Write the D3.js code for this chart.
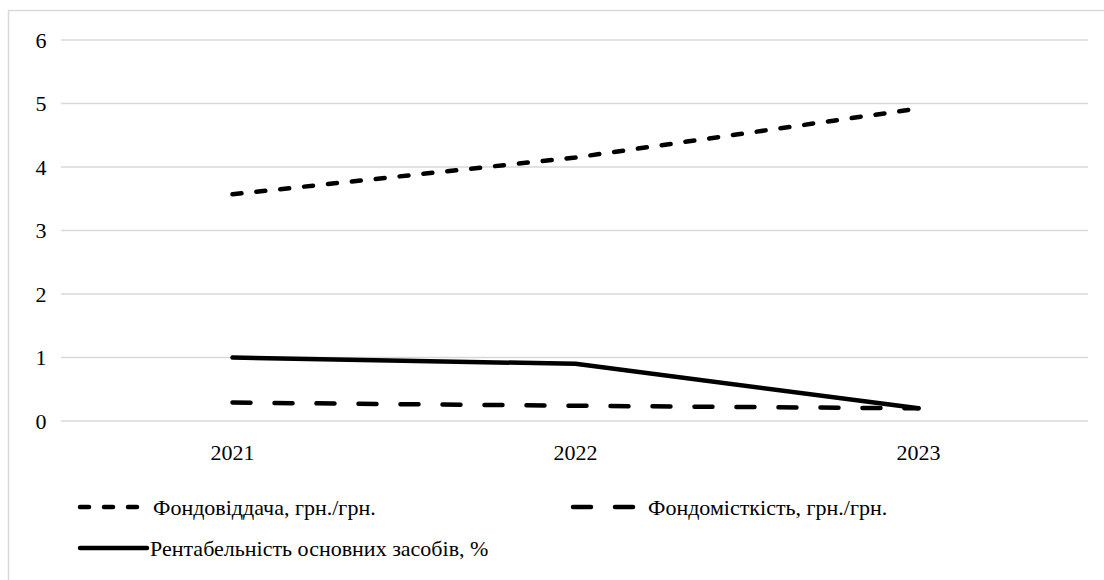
<!DOCTYPE html>
<html>
<head>
<meta charset="utf-8">
<script src="https://cdn.jsdelivr.net/npm/d3@7"></script>
<style>
  body { margin: 0; background: #fff; }
  svg text { font-family: "Times New Roman", Times, Tinos, "Liberation Serif", "Noto Serif", "Nimbus Roman", "FreeSerif", "DejaVu Serif", serif; }
</style>
</head>
<body>
<div id="chart"></div>
<script>
const years = ["2021", "2022", "2023"];
const fondoviddacha = [3.57, 4.15, 4.92];
const fondomistkist = [0.29, 0.24, 0.2];
const rentabelnist = [1.0, 0.9, 0.2];
const yTicks = [0, 1, 2, 3, 4, 5, 6];

const width = 1104,
    height = 580;

const svg = d3.select("#chart").append("svg")
    .attr("width", width)
    .attr("height", height);

// outer frame (right/bottom edges fall outside the picture)
svg.append("rect")
    .attr("x", 8.5)
    .attr("y", 10.5)
    .attr("width", 1110)
    .attr("height", 600)
    .attr("fill", "none")
    .attr("stroke", "#d9d9d9")
    .attr("stroke-width", 1.5);

const x = d3.scaleBand()
    .domain(years)
    .range([61, 1090]);

const y = d3.scaleLinear()
    .domain([0, 6])
    .range([421, 40]);

// gridlines
svg.append("g")
    .selectAll("line")
    .data(yTicks)
    .join("line")
    .attr("x1", 61)
    .attr("x2", 1088)
    .attr("y1", d => y(d))
    .attr("y2", d => y(d))
    .attr("stroke", "#d9d9d9")
    .attr("stroke-width", 1.5);

// y labels
svg.append("g")
    .selectAll("text")
    .data(yTicks)
    .join("text")
    .attr("x", 41)
    .attr("y", d => y(d))
    .attr("dy", "0.35em")
    .attr("text-anchor", "middle")
    .attr("font-size", 22)
    .text(d => d);

// x labels
svg.append("g")
    .selectAll("text")
    .data(years)
    .join("text")
    .attr("x", d => x(d) + x.bandwidth() / 2)
    .attr("y", 460)
    .attr("text-anchor", "middle")
    .attr("font-size", 22)
    .text(d => d);

const series = [
    {name: "Фондовіддача, грн./грн.", values: fondoviddacha, dash: "9 15"},
    {name: "Фондомісткість, грн./грн.", values: fondomistkist, dash: "18 24"},
    {name: "Рентабельність основних засобів, %", values: rentabelnist, dash: null}
];

const line = d3.line()
    .x((d, i) => x(years[i]) + x.bandwidth() / 2)
    .y(d => y(d));

series.forEach(s => {
    svg.append("path")
        .datum(s.values)
        .attr("d", line)
        .attr("fill", "none")
        .attr("stroke", "#000")
        .attr("stroke-width", 4.5)
        .attr("stroke-linecap", "round")
        .attr("stroke-linejoin", "round")
        .attr("stroke-dasharray", s.dash);
});

// legend
const legendItems = [
    {s: series[0], x1: 80, x2: 140, tx: 153, ty: 507},
    {s: series[1], x1: 573, x2: 633, tx: 648, ty: 507},
    {s: series[2], x1: 80, x2: 147, tx: 150, ty: 548}
];

const legend = svg.append("g");
legendItems.forEach(item => {
    legend.append("line")
        .attr("x1", item.x1)
        .attr("x2", item.x2)
        .attr("y1", item.ty)
        .attr("y2", item.ty)
        .attr("stroke", "#000")
        .attr("stroke-width", 4.5)
        .attr("stroke-linecap", "round")
        .attr("stroke-dasharray", item.s.dash);
    legend.append("text")
        .attr("x", item.tx)
        .attr("y", item.ty)
        .attr("dy", "0.35em")
        .attr("font-size", 22)
        .text(item.s.name);
});
</script>
</body>
</html>
